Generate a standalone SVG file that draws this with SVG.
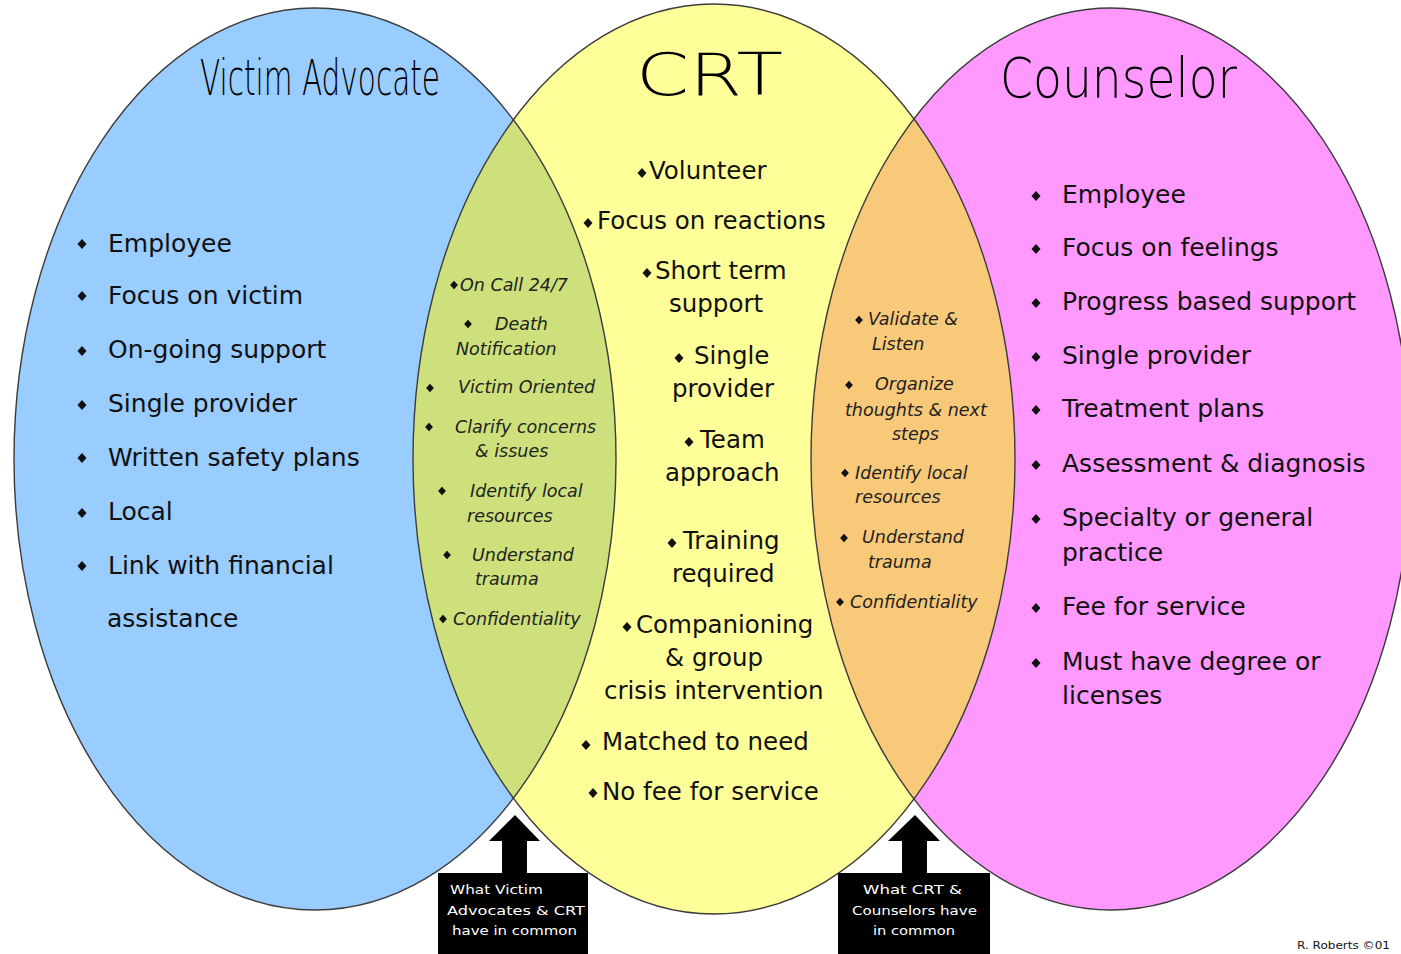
<svg xmlns="http://www.w3.org/2000/svg" xmlns:xlink="http://www.w3.org/1999/xlink" width="1401" height="954" viewBox="0 0 1401 954">
<defs>
<style>
.title{font-family:"DejaVu Sans","Liberation Sans",sans-serif;font-weight:200;fill:#000;}
.item{font-family:"DejaVu Sans","Liberation Sans",sans-serif;font-size:25px;fill:#111;}
.citem{font-family:"DejaVu Sans","Liberation Sans",sans-serif;font-size:24.5px;fill:#111;}
.lens{font-family:"DejaVu Sans","Liberation Sans",sans-serif;font-size:17.5px;font-style:oblique;fill:#222;}
.box{font-family:"DejaVu Sans","Liberation Sans",sans-serif;font-size:13px;fill:#fff;}
.sig{font-family:"DejaVu Sans","Liberation Sans",sans-serif;font-size:10px;fill:#111;}
.outline{fill:none;stroke:#3c3c3c;stroke-width:1.4;}
.blt{fill:#111;}
</style>
<path id="d" d="M0,-5 L4.5,0 L0,5 L-4.5,0Z"/>
<path id="ds" d="M0,-4.2 L3.9,0 L0,4.2 L-3.9,0Z"/>
<clipPath id="clipBlue"><ellipse cx="315" cy="459" rx="301" ry="451"/></clipPath>
<clipPath id="clipPink"><ellipse cx="1111" cy="459" rx="300" ry="451"/></clipPath>
</defs>
<rect width="1401" height="954" fill="#fff"/>

<g id="circle-victim-advocate">
<ellipse cx="315" cy="459" rx="301" ry="451" fill="#99ccff"/>
</g>
<g id="circle-counselor">
<ellipse cx="1111" cy="459" rx="300" ry="451" fill="#ff99ff"/>
</g>
<g id="circle-crt">
<ellipse cx="714" cy="459" rx="301" ry="455" fill="#ffff99"/>
</g>
<g id="lens-va-crt">
<ellipse cx="714" cy="459" rx="301" ry="455" fill="#cde07b" clip-path="url(#clipBlue)"/>
</g>
<g id="lens-crt-counselor">
<ellipse cx="714" cy="459" rx="301" ry="455" fill="#f9c97a" clip-path="url(#clipPink)"/>
</g>
<g id="outlines">
<ellipse class="outline" cx="315" cy="459" rx="301" ry="451"/>
<ellipse class="outline" cx="1111" cy="459" rx="300" ry="451"/>
<ellipse class="outline" cx="714" cy="459" rx="301" ry="455"/>
</g>

<g id="titles">
<text class="title" x="200" y="95" font-size="50" textLength="240" lengthAdjust="spacingAndGlyphs">Victim Advocate</text>
<text class="title" x="636" y="95" font-size="58" textLength="147" lengthAdjust="spacingAndGlyphs">CRT</text>
<text class="title" x="1000" y="97" font-size="56" textLength="237" lengthAdjust="spacingAndGlyphs">Counselor</text>
</g>

<g id="victim-advocate-items">
<g class="blt">
<use xlink:href="#d" x="82" y="244"/><use xlink:href="#d" x="82" y="296"/><use xlink:href="#d" x="82" y="351"/><use xlink:href="#d" x="82" y="405"/><use xlink:href="#d" x="82" y="458"/><use xlink:href="#d" x="82" y="513"/><use xlink:href="#d" x="82" y="566"/>
</g>
<text class="item" x="108" y="252">Employee</text>
<text class="item" x="108" y="304">Focus on victim</text>
<text class="item" x="108" y="358">On-going support</text>
<text class="item" x="108" y="412">Single provider</text>
<text class="item" x="108" y="466">Written safety plans</text>
<text class="item" x="108" y="520">Local</text>
<text class="item" x="108" y="574">Link with financial</text>
<text class="item" x="107" y="627">assistance</text>
</g>

<g id="crt-items">
<g class="blt">
<use xlink:href="#d" x="642" y="173"/><use xlink:href="#d" x="588" y="223"/><use xlink:href="#d" x="647" y="273"/><use xlink:href="#d" x="679" y="358"/><use xlink:href="#d" x="689" y="442"/><use xlink:href="#d" x="672" y="543"/><use xlink:href="#d" x="627" y="627"/><use xlink:href="#d" x="586" y="745"/><use xlink:href="#d" x="593" y="793"/>
</g>
<text class="citem" x="649" y="179">Volunteer</text>
<text class="citem" x="597" y="229">Focus on reactions</text>
<text class="citem" x="655" y="279">Short term</text>
<text class="citem" x="669" y="312">support</text>
<text class="citem" x="694" y="364">Single</text>
<text class="citem" x="672" y="397">provider</text>
<text class="citem" x="700" y="448">Team</text>
<text class="citem" x="665" y="481">approach</text>
<text class="citem" x="683" y="549">Training</text>
<text class="citem" x="672" y="582">required</text>
<text class="citem" x="636" y="633">Companioning</text>
<text class="citem" x="665" y="666">&amp; group</text>
<text class="citem" x="604" y="699">crisis intervention</text>
<text class="citem" x="602" y="750">Matched to need</text>
<text class="citem" x="602" y="800">No fee for service</text>
</g>

<g id="counselor-items">
<g class="blt">
<use xlink:href="#d" x="1036" y="196"/><use xlink:href="#d" x="1036" y="249"/><use xlink:href="#d" x="1036" y="303"/><use xlink:href="#d" x="1036" y="357"/><use xlink:href="#d" x="1036" y="410"/><use xlink:href="#d" x="1036" y="465"/><use xlink:href="#d" x="1036" y="519"/><use xlink:href="#d" x="1036" y="608"/><use xlink:href="#d" x="1036" y="663"/>
</g>
<text class="item" x="1062" y="203">Employee</text>
<text class="item" x="1062" y="256">Focus on feelings</text>
<text class="item" x="1062" y="310">Progress based support</text>
<text class="item" x="1062" y="364">Single provider</text>
<text class="item" x="1062" y="417">Treatment plans</text>
<text class="item" x="1062" y="472">Assessment &amp; diagnosis</text>
<text class="item" x="1062" y="526">Specialty or general</text>
<text class="item" x="1062" y="561">practice</text>
<text class="item" x="1062" y="615">Fee for service</text>
<text class="item" x="1062" y="670">Must have degree or</text>
<text class="item" x="1062" y="704">licenses</text>
</g>

<g id="va-crt-common-items">
<g class="blt">
<use xlink:href="#ds" x="454" y="285"/><use xlink:href="#ds" x="468" y="324"/><use xlink:href="#ds" x="430" y="388"/><use xlink:href="#ds" x="429" y="427"/><use xlink:href="#ds" x="442" y="491"/><use xlink:href="#ds" x="447" y="555"/><use xlink:href="#ds" x="443" y="619"/>
</g>
<text class="lens" x="460" y="291">On Call 24/7</text>
<text class="lens" x="495" y="330">Death</text>
<text class="lens" x="456" y="355">Notification</text>
<text class="lens" x="458" y="393">Victim Oriented</text>
<text class="lens" x="455" y="433">Clarify concerns</text>
<text class="lens" x="475" y="457">&amp; issues</text>
<text class="lens" x="470" y="497">Identify local</text>
<text class="lens" x="467" y="522">resources</text>
<text class="lens" x="472" y="561">Understand</text>
<text class="lens" x="475" y="585">trauma</text>
<text class="lens" x="453" y="625">Confidentiality</text>
</g>

<g id="crt-counselor-common-items">
<g class="blt">
<use xlink:href="#ds" x="859" y="320"/><use xlink:href="#ds" x="849" y="385"/><use xlink:href="#ds" x="845" y="473"/><use xlink:href="#ds" x="844" y="538"/><use xlink:href="#ds" x="840" y="602"/>
</g>
<text class="lens" x="868" y="325">Validate &amp;</text>
<text class="lens" x="872" y="350">Listen</text>
<text class="lens" x="875" y="390">Organize</text>
<text class="lens" x="845" y="416">thoughts &amp; next</text>
<text class="lens" x="892" y="440">steps</text>
<text class="lens" x="855" y="479">Identify local</text>
<text class="lens" x="855" y="503">resources</text>
<text class="lens" x="862" y="543">Understand</text>
<text class="lens" x="868" y="568">trauma</text>
<text class="lens" x="850" y="608">Confidentiality</text>
</g>

<g id="connectors">
<path d="M515,815 L540,841 L527,841 L527,874 L502,874 L502,841 L489,841 Z" fill="#000"/>
<path d="M915,815 L940,841 L927,841 L927,874 L902,874 L902,841 L888,841 Z" fill="#000"/>
</g>

<g id="callout-va-crt">
<rect x="438" y="873" width="150" height="81" fill="#000"/>
<text class="box" x="450" y="894" textLength="93" lengthAdjust="spacingAndGlyphs">What Victim</text>
<text class="box" x="447" y="915" textLength="138" lengthAdjust="spacingAndGlyphs">Advocates &amp; CRT</text>
<text class="box" x="452" y="935" textLength="125" lengthAdjust="spacingAndGlyphs">have in common</text>
</g>
<g id="callout-crt-counselor">
<rect x="838" y="873" width="152" height="81" fill="#000"/>
<text class="box" x="863" y="894" textLength="99" lengthAdjust="spacingAndGlyphs">What CRT &amp;</text>
<text class="box" x="852" y="915" textLength="125" lengthAdjust="spacingAndGlyphs">Counselors have</text>
<text class="box" x="873" y="935" textLength="82" lengthAdjust="spacingAndGlyphs">in common</text>
</g>

<text class="sig" x="1297" y="949" textLength="93" lengthAdjust="spacingAndGlyphs">R. Roberts ©01</text>
</svg>
